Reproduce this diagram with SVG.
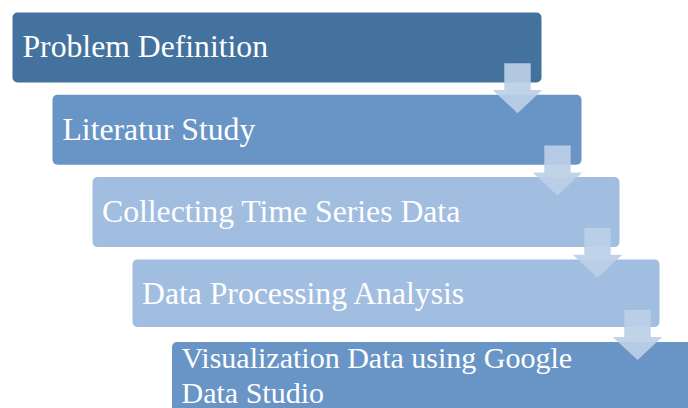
<svg xmlns="http://www.w3.org/2000/svg" width="688" height="408" viewBox="0 0 688 408">
<style>
.box{stroke:none}
.t{font-family:"Liberation Serif","Times New Roman",serif;font-size:31.7px;fill:#ffffff}
.t5{font-size:30px}
.arr{fill:#bccfe7;opacity:0.92}
</style>
<defs>
<path id="ar" d="M-13.2,0 H13.2 V26.9 H24.8 L0,50 L-24.8,26.9 H-13.2 Z"/>
</defs>
<rect width="688" height="408" fill="#ffffff"/>
<g id="node1"><rect class="box" x="12.5" y="12.5" width="529" height="70" rx="5" fill="#43729e"/><text class="t" x="22.5" y="57.2">Problem Definition</text></g>
<g id="node2"><rect class="box" x="52.5" y="94.8" width="529" height="70" rx="5" fill="#6895c6"/><text class="t" x="62.5" y="139.5">Literatur Study</text></g>
<g id="node3"><rect class="box" x="92.5" y="177.1" width="527" height="70" rx="5" fill="#a1bde0"/><text class="t" x="102" y="221.8">Collecting Time Series Data</text></g>
<g id="node4"><rect class="box" x="132.5" y="259.4" width="527" height="67.5" rx="5" fill="#a1bde0"/><text class="t" x="142" y="304.1">Data Processing Analysis</text></g>
<g id="node5"><rect class="box" x="172" y="342" width="530" height="70" rx="5" fill="#6895c6"/><text class="t t5" x="181.5" y="367.8">Visualization Data using Google</text><text class="t t5" x="181.5" y="402.5">Data Studio</text></g>
<g id="connectors">
<use href="#ar" class="arr" x="517.5" y="63.2"/>
<use href="#ar" class="arr" x="557.5" y="145.5"/>
<use href="#ar" class="arr" x="597.5" y="227.8"/>
<use href="#ar" class="arr" x="637.5" y="310.1"/>
</g>
</svg>
